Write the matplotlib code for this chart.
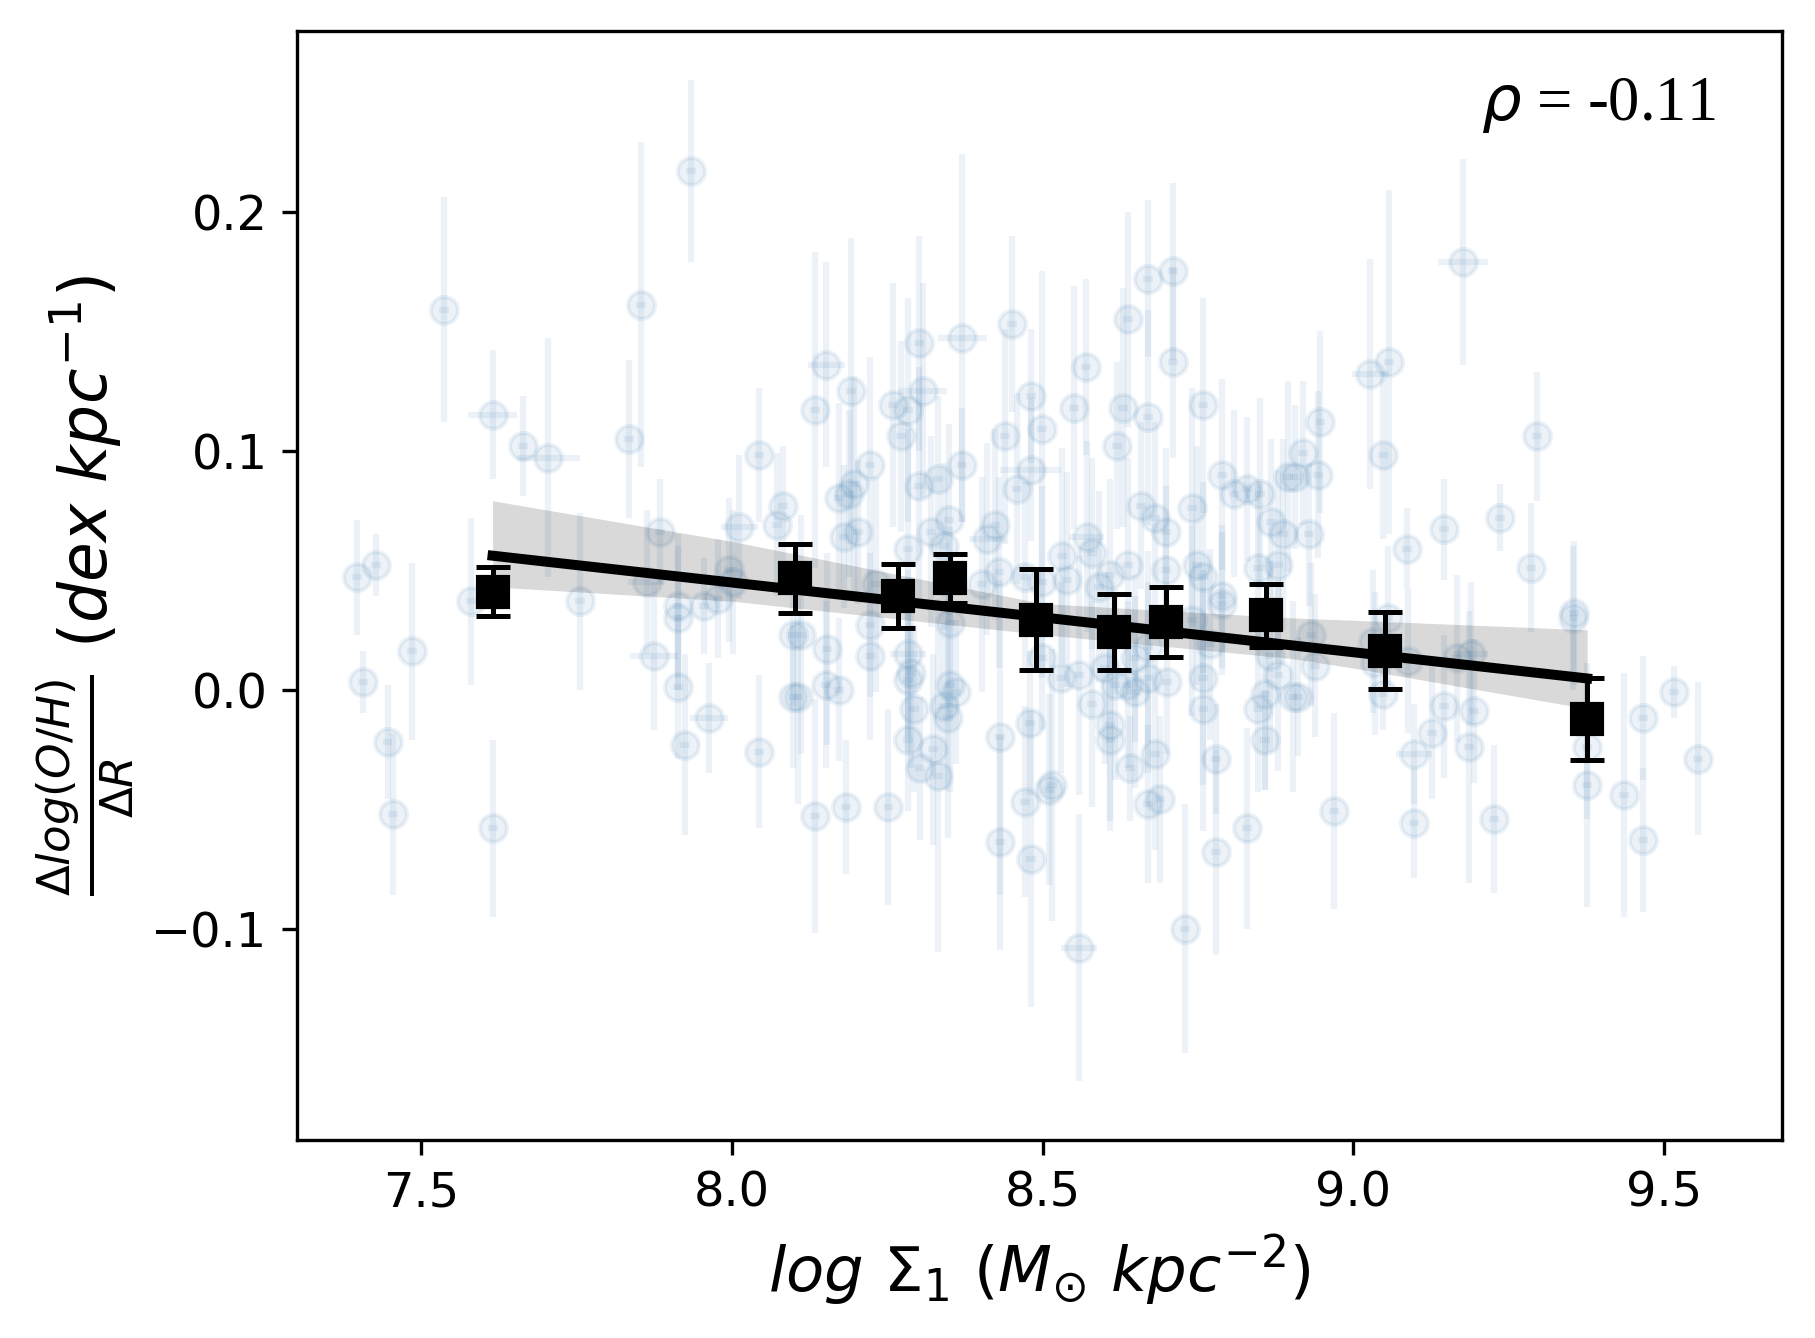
import matplotlib
matplotlib.use('Agg')
import matplotlib.pyplot as plt
import numpy as np

# individual galaxies: log Sigma_1, gradient, errors
gal_x = [7.537, 7.854, 7.934, 7.615, 7.664, 7.705, 7.834, 8.043, 8.083, 8.073,
         8.012, 7.884, 7.995, 8.002, 7.863, 7.427, 7.397, 7.580, 7.755, 7.914,
         7.955, 7.977, 7.486, 7.406, 7.446, 7.455, 7.615, 7.875, 7.914, 7.914,
         7.925, 7.963, 8.043, 8.099, 8.099,
         # middle, upper half
         8.152, 8.133, 8.192, 8.260, 8.283, 8.301, 8.307, 8.272, 8.371, 8.451,
         8.481, 8.499, 8.440, 8.570, 8.550, 8.638, 8.670, 8.709, 8.709, 8.630,
         8.670, 8.620, 8.758, 8.222, 8.371, 8.481, 8.459, 8.331, 8.301, 8.197,
         8.173, 8.189, 8.203, 8.181, 8.349, 8.320, 8.342, 8.283, 8.423, 8.411,
         8.571, 8.579, 8.531, 8.658, 8.681, 8.698, 8.740, 8.789, 8.808, 8.828,
         8.849, 8.868, 8.887, 8.895, 8.638, 8.698, 8.749, 8.758, 8.847, 8.879,
         8.788, 8.609, 8.590, 8.539, 8.472, 8.430, 8.403, 8.232, 8.499,
         # middle, lower half
         8.112, 8.153, 8.152, 8.173, 8.106, 8.222, 8.222, 8.283, 8.288, 8.283,
         8.293, 8.283, 8.323, 8.302, 8.332, 8.351, 8.360, 8.341, 8.348, 8.351,
         8.133, 8.183, 8.252, 8.431, 8.480, 8.499, 8.530, 8.559, 8.579, 8.609,
         8.609, 8.601, 8.617, 8.638, 8.649, 8.649, 8.670, 8.700, 8.670, 8.640,
         8.680, 8.779, 8.758, 8.758, 8.769, 8.857, 8.847, 8.857, 8.879, 8.902,
         8.865, 8.515, 8.510, 8.471, 8.670, 8.689, 8.431, 8.481, 8.828, 8.779,
         8.729, 8.559, 8.740, 8.788,
         # right side
         9.176, 9.057, 9.027, 8.947, 8.919, 8.943, 8.906, 9.047, 9.295, 8.928,
         9.086, 9.146, 9.236, 9.285, 9.355,
         9.354, 9.055, 8.932, 8.938, 8.911, 9.031, 9.034, 9.047, 9.087, 9.167,
         9.189, 9.146, 9.194, 9.127, 9.186, 9.097, 9.376, 9.376, 9.435, 9.466,
         9.515, 9.554, 9.466, 8.969, 9.097, 9.226]

gal_y = [0.159, 0.161, 0.217, 0.115, 0.102, 0.097, 0.105, 0.098, 0.077, 0.069,
         0.068, 0.066, 0.050, 0.045, 0.045, 0.052, 0.047, 0.037, 0.037, 0.035,
         0.035, 0.038, 0.016, 0.003, -0.022, -0.052, -0.058, 0.014, 0.001, 0.030,
         -0.023, -0.012, -0.026, -0.003, 0.023,
         0.136, 0.117, 0.125, 0.119, 0.117, 0.145, 0.125, 0.106, 0.147, 0.153,
         0.123, 0.109, 0.106, 0.135, 0.118, 0.155, 0.172, 0.175, 0.137, 0.118,
         0.114, 0.102, 0.119, 0.094, 0.094, 0.092, 0.084, 0.088, 0.085, 0.086,
         0.080, 0.082, 0.066, 0.064, 0.071, 0.066, 0.060, 0.059, 0.069, 0.063,
         0.064, 0.057, 0.056, 0.077, 0.072, 0.066, 0.076, 0.090, 0.082, 0.084,
         0.082, 0.070, 0.065, 0.089, 0.052, 0.050, 0.052, 0.047, 0.051, 0.052,
         0.039, 0.048, 0.043, 0.046, 0.047, 0.049, 0.044, 0.044, 0.045,
         0.023, 0.017, 0.002, 0.000, -0.003, 0.027, 0.014, 0.015, 0.007, 0.004,
         -0.008, -0.021, -0.025, -0.033, -0.036, 0.002, -0.001, -0.007, -0.012, 0.028,
         -0.053, -0.049, -0.049, -0.020, -0.014, 0.013, 0.005, 0.006, -0.006, -0.015,
         -0.021, 0.009, 0.002, 0.002, -0.001, 0.013, 0.005, 0.003, 0.018, -0.033,
         -0.027, -0.029, 0.005, -0.008, 0.019, -0.002, -0.008, -0.021, 0.006, -0.003,
         0.014, -0.040, -0.042, -0.047, -0.048, -0.046, -0.064, -0.071, -0.058, -0.068,
         -0.100, -0.108, 0.029, 0.036,
         0.179, 0.137, 0.132, 0.112, 0.099, 0.090, 0.089, 0.098, 0.106, 0.065,
         0.059, 0.067, 0.072, 0.051, 0.032,
         0.030, 0.030, 0.023, 0.010, -0.003, 0.020, 0.011, -0.002, 0.012, 0.013,
         0.015, -0.007, -0.009, -0.018, -0.024, -0.027, -0.024, -0.040, -0.044, -0.012,
         -0.001, -0.029, -0.063, -0.051, -0.056, -0.054]

gal_xerr = [0.008, 0.008, 0.008, 0.040, 0.008, 0.050, 0.008, 0.008, 0.008, 0.008,
            0.030, 0.008, 0.008, 0.008, 0.030, 0.008, 0.008, 0.008, 0.008, 0.008,
            0.008, 0.008, 0.008, 0.008, 0.008, 0.008, 0.008, 0.039, 0.008, 0.008,
            0.008, 0.030, 0.008, 0.008, 0.008,
            0.030, 0.008, 0.008, 0.008, 0.008, 0.008, 0.039, 0.008, 0.039, 0.008,
            0.008, 0.008, 0.008, 0.008, 0.008, 0.008, 0.008, 0.008, 0.008, 0.008,
            0.008, 0.008, 0.008, 0.008, 0.008, 0.049, 0.008, 0.008, 0.008, 0.008,
            0.008, 0.008, 0.008, 0.008, 0.008, 0.008, 0.008, 0.008, 0.008, 0.030,
            0.028, 0.008, 0.008, 0.008, 0.008, 0.008, 0.008, 0.008, 0.008, 0.008,
            0.008, 0.008, 0.008, 0.008, 0.008, 0.008, 0.008, 0.008, 0.008, 0.008,
            0.008, 0.008, 0.008, 0.008, 0.008, 0.008, 0.008, 0.008, 0.008,
            0.008, 0.008, 0.008, 0.008, 0.008, 0.008, 0.008, 0.029, 0.008, 0.008,
            0.008, 0.008, 0.008, 0.008, 0.008, 0.008, 0.008, 0.008, 0.008, 0.008,
            0.008, 0.008, 0.008, 0.008, 0.008, 0.008, 0.008, 0.008, 0.008, 0.008,
            0.008, 0.008, 0.008, 0.008, 0.008, 0.008, 0.008, 0.008, 0.008, 0.008,
            0.008, 0.008, 0.008, 0.008, 0.008, 0.008, 0.008, 0.008, 0.008, 0.008,
            0.008, 0.008, 0.008, 0.008, 0.008, 0.008, 0.008, 0.008, 0.008, 0.008,
            0.008, 0.029, 0.008, 0.008,
            0.040, 0.008, 0.030, 0.008, 0.008, 0.008, 0.008, 0.008, 0.008, 0.008,
            0.008, 0.008, 0.008, 0.008, 0.008,
            0.008, 0.008, 0.008, 0.008, 0.008, 0.008, 0.008, 0.008, 0.008, 0.008,
            0.028, 0.008, 0.008, 0.008, 0.008, 0.029, 0.008, 0.008, 0.008, 0.008,
            0.008, 0.008, 0.008, 0.008, 0.008, 0.008]

gal_yerr = [0.047, 0.068, 0.038, 0.027, 0.021, 0.050, 0.033, 0.028, 0.025, 0.030,
            0.030, 0.022, 0.030, 0.030, 0.030, 0.013, 0.024, 0.035, 0.037, 0.030,
            0.020, 0.025, 0.037, 0.013, 0.024, 0.034, 0.037, 0.031, 0.030, 0.030,
            0.038, 0.023, 0.032, 0.030, 0.030,
            0.043, 0.066, 0.064, 0.051, 0.047, 0.045, 0.045, 0.040, 0.077, 0.037,
            0.028, 0.066, 0.045, 0.037, 0.051, 0.045, 0.033, 0.037, 0.040, 0.050,
            0.045, 0.035, 0.045, 0.045, 0.024, 0.030, 0.040, 0.035, 0.050, 0.045,
            0.040, 0.035, 0.030, 0.030, 0.040, 0.040, 0.035, 0.050, 0.040, 0.040,
            0.040, 0.040, 0.045, 0.035, 0.040, 0.035, 0.050, 0.040, 0.035, 0.030,
            0.040, 0.035, 0.040, 0.040, 0.045, 0.035, 0.050, 0.040, 0.035, 0.040,
            0.030, 0.040, 0.040, 0.045, 0.040, 0.040, 0.045, 0.045, 0.040,
            0.050, 0.040, 0.035, 0.030, 0.045, 0.030, 0.035, 0.035, 0.040, 0.030,
            0.035, 0.030, 0.040, 0.030, 0.074, 0.045, 0.030, 0.035, 0.050, 0.040,
            0.049, 0.028, 0.041, 0.066, 0.030, 0.030, 0.040, 0.050, 0.043, 0.040,
            0.038, 0.040, 0.040, 0.035, 0.040, 0.035, 0.040, 0.030, 0.040, 0.022,
            0.040, 0.023, 0.045, 0.051, 0.040, 0.040, 0.035, 0.021, 0.040, 0.040,
            0.040, 0.057, 0.040, 0.040, 0.033, 0.035, 0.045, 0.062, 0.042, 0.043,
            0.052, 0.056, 0.040, 0.030,
            0.043, 0.072, 0.048, 0.038, 0.030, 0.035, 0.030, 0.035, 0.027, 0.030,
            0.017, 0.021, 0.014, 0.027, 0.030,
            0.030, 0.030, 0.030, 0.030, 0.025, 0.030, 0.030, 0.015, 0.030, 0.035,
            0.030, 0.030, 0.030, 0.028, 0.057, 0.021, 0.030, 0.051, 0.051, 0.026,
            0.011, 0.032, 0.030, 0.041, 0.023, 0.031]

# binned medians
bin_x = [7.615, 8.102, 8.267, 8.351, 8.490, 8.615, 8.698, 8.859, 9.051, 9.376]
bin_y = [0.041, 0.0466, 0.039, 0.0465, 0.0293, 0.024, 0.0283, 0.031, 0.0163, -0.0123]
bin_err = [0.0102, 0.0144, 0.0134, 0.0104, 0.0213, 0.016, 0.0146, 0.0133, 0.0162, 0.0172]

# confidence band edges
band_x = [7.615, 8.0, 8.5, 8.9, 9.0, 9.376]
band_hi = [0.079, 0.062, 0.036, 0.030, 0.029, 0.025]
band_lo = [0.043, 0.037, 0.023, 0.013, 0.009, -0.008]

rho = -0.11

fig = plt.figure(figsize=(6.05, 4.46), dpi=300)
ax = fig.add_axes([0.1635, 0.1480, 0.8185, 0.8290])

ax.errorbar(gal_x, gal_y, xerr=gal_xerr, yerr=gal_yerr, fmt='o', color='steelblue',
            alpha=0.1, ms=6.5, zorder=1)

ax.fill_between(band_x, band_lo, band_hi, color='k', alpha=0.15, lw=0, zorder=2)

# linear fit to the binned points
coef = np.polyfit(bin_x, bin_y, 1)
xx = np.array([min(bin_x), max(bin_x)])
ax.plot(xx, np.polyval(coef, xx), color='k', lw=2.4, zorder=3)

ax.errorbar(bin_x, bin_y, yerr=bin_err, fmt='s', color='k', ms=7, capsize=4,
            elinewidth=1.2, capthick=1.2, zorder=4)

ax.text(0.797, 0.92, r'$\rho$ = %.2f' % rho, transform=ax.transAxes,
        fontsize=15, family='Liberation Serif')

ax.set_xlim(7.30, 9.69)
ax.set_ylim(-0.1885, 0.2757)
ax.set_xticks([7.5, 8.0, 8.5, 9.0, 9.5])
ax.set_yticks([-0.1, 0.0, 0.1, 0.2])
ax.tick_params(labelsize=11.5)

ax.set_xlabel(r'$log\ \Sigma_1\ (M_{\odot}\ kpc^{-2})$', fontsize=15)
ax.set_ylabel(r'$\frac{\Delta log(O/H)}{\Delta R}\ (dex\ kpc^{-1})$', fontsize=15.5)

fig.savefig('out.png', dpi=300)
